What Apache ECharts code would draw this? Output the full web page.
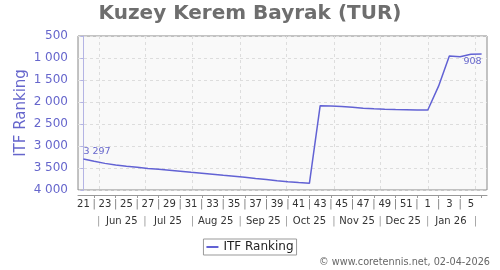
<!DOCTYPE html>
<html>
<head>
<meta charset="utf-8">
<script src="https://cdn.jsdelivr.net/npm/echarts@6/dist/echarts.min.js"></script>
<style>html,body{margin:0;padding:0;background:#fff}#c{width:500px;height:270px}</style>
</head>
<body>
<div id="c"></div>
<script>
const weeks = [21,22,23,24,25,26,27,28,29,30,31,32,33,34,35,36,37,38,39,40,41,42,43,44,45,46,47,48,49,50,51,52,1,2,3,4,5,6];
const dates = ['2025-05-22','2025-05-29','2025-06-05','2025-06-12','2025-06-19','2025-06-26','2025-07-03','2025-07-10','2025-07-17','2025-07-24','2025-07-31','2025-08-07','2025-08-14','2025-08-21','2025-08-28','2025-09-04','2025-09-11','2025-09-18','2025-09-25','2025-10-02','2025-10-09','2025-10-16','2025-10-23','2025-10-30','2025-11-06','2025-11-13','2025-11-20','2025-11-27','2025-12-04','2025-12-11','2025-12-18','2025-12-25','2026-01-01','2026-01-08','2026-01-15','2026-01-22','2026-01-29','2026-02-05'];
const ranks = [3297,3347,3395,3434,3461,3485,3512,3530,3550,3573,3596,3618,3641,3666,3689,3712,3739,3764,3789,3812,3832,3848,2084,2090,2100,2120,2140,2155,2165,2172,2176,2180,2182,1640,955,970,915,908];
const monthStarts = ['2025-06-01','2025-07-01','2025-08-01','2025-09-01','2025-10-01','2025-11-01','2025-12-01','2026-01-01','2026-02-01'];
const monthMids = ['2025-06-16','2025-07-16','2025-08-16','2025-09-16','2025-10-16','2025-11-16','2025-12-16','2026-01-16'];
const monthLabels = ['Jun 25','Jul 25','Aug 25','Sep 25','Oct 25','Nov 25','Dec 25','Jan 26'];
const titleText = 'Kuzey Kerem Bayrak (TUR)';
const seriesName = 'ITF Ranking';
const footer = '\u00a9 www.coretennis.net, 02-04-2026';

const DAY = 864e5;
const ts = s => Date.UTC(+s.slice(0,4), +s.slice(5,7) - 1, +s.slice(8,10));
const t0 = ts(dates[0]);
const wk = s => (ts(s) - t0) / (7 * DAY);
const fmt = v => String(v).replace(/\B(?=(\d{3})+(?!\d))/g, ' ');
const F = 'DejaVu Sans';
const LINE = '#6262d4';
const PURPLE = '#6666cc';

const pos = dates.map(wk);
const xMin = pos[0] - 0.5;
const xMax = pos[pos.length - 1] + 0.5;

function makeLookup(pairs) {
  return v => {
    for (const [k, txt] of pairs) if (Math.abs(k - v) < 1e-6) return txt;
    return '';
  };
}

const weekPairs = [];
const weekTickVals = [];
pos.forEach((p, i) => {
  if (i % 2 === 0) {
    weekPairs.push([p, String(weeks[i])]);
    if (i + 2 < pos.length) weekPairs.push([pos[i + 1], '{s||}']);
  } else {
    weekTickVals.push(p);
  }
});
const monthPairs = [];
monthStarts.forEach(s => monthPairs.push([wk(s), '{s||}']));
monthMids.forEach((s, i) => monthPairs.push([wk(s), monthLabels[i]]));
const weekFmt = makeLookup(weekPairs);
const monthFmt = makeLookup(monthPairs);

const seriesData = pos.map((p, i) => {
  const item = { value: [p, ranks[i]] };
  if (i === 0) item.label = { show: true, position: 'top', align: 'left', distance: 3 };
  if (i === pos.length - 1) item.label = { show: true, position: 'bottom', align: 'right', distance: 3 };
  return item;
});

const chart = echarts.init(document.getElementById('c'), null, { renderer: 'canvas' });
chart.setOption({
  animation: false,
  textStyle: { fontFamily: F },
  title: {
    text: titleText, left: 'center', top: -1,
    textStyle: { fontFamily: F, fontSize: 20, fontWeight: 'bold', color: '#6e6e6e' }
  },
  grid: {
    left: 78, right: 13, top: 36, bottom: 80,
    show: true, backgroundColor: '#f9f9f9', borderColor: '#888', borderWidth: 1
  },
  legend: {
    data: [seriesName], left: 'center', top: 239,
    borderColor: '#999', borderWidth: 1, padding: [2, 3, 2, 3],
    itemWidth: 12, itemHeight: 2, itemGap: 5, icon: 'rect',
    textStyle: { fontFamily: F, fontSize: 12, color: '#222' }
  },
  graphic: [{
    type: 'text', right: 10, top: 257,
    style: { text: footer, font: '9.7px "DejaVu Sans"', fill: '#666' }
  }],
  xAxis: [{
    type: 'value', min: xMin, max: xMax, position: 'bottom', offset: 5,
    axisLine: { show: true, onZero: false, lineStyle: { color: '#999', width: 1 } },
    axisTick: { show: true, length: 3, customValues: weekTickVals, lineStyle: { color: '#999' } },
    splitLine: { show: false },
    axisLabel: {
      customValues: weekPairs.map(p => p[0]), margin: 4, fontSize: 10, color: '#333', fontFamily: F,
      formatter: weekFmt,
      rich: { s: { color: '#777', fontSize: 10, fontFamily: F } }
    }
  }, {
    type: 'value', min: xMin, max: xMax, position: 'bottom', offset: 5,
    axisLine: { show: false, onZero: false },
    axisTick: { show: false, customValues: monthStarts.map(wk) },
    splitLine: { show: true, lineStyle: { color: '#ddd', type: [3, 3] } },
    axisLabel: {
      customValues: monthPairs.map(p => p[0]), margin: 21, fontSize: 10, color: '#333', fontFamily: F,
      formatter: monthFmt,
      rich: { s: { color: '#999', fontSize: 10, fontFamily: F } }
    }
  }],
  yAxis: {
    type: 'value', inverse: true, min: 500, max: 4000, interval: 500, offset: 5,
    name: seriesName, nameLocation: 'middle', nameGap: 44, nameMoveOverlap: false,
    nameTextStyle: { fontFamily: F, fontSize: 15, color: PURPLE },
    axisLine: { show: true, lineStyle: { color: '#b4b4e4' } },
    axisTick: { show: true, length: 3, lineStyle: { color: '#b4b4e4' } },
    axisLabel: { fontSize: 12, color: PURPLE, margin: 5, fontFamily: F, formatter: v => fmt(v) },
    splitLine: { show: true, lineStyle: { color: '#ddd', type: [3, 3] } }
  },
  series: [{
    name: seriesName, type: 'line', xAxisIndex: 0, data: seriesData,
    showSymbol: true, symbol: 'circle', symbolSize: 0,
    lineStyle: { color: LINE, width: 1.5 }, itemStyle: { color: LINE },
    label: { show: false, fontSize: 9.5, color: PURPLE, fontFamily: F, formatter: p => fmt(p.value[1]) },
    emphasis: { disabled: true }
  }]
});
</script>
</body>
</html>
